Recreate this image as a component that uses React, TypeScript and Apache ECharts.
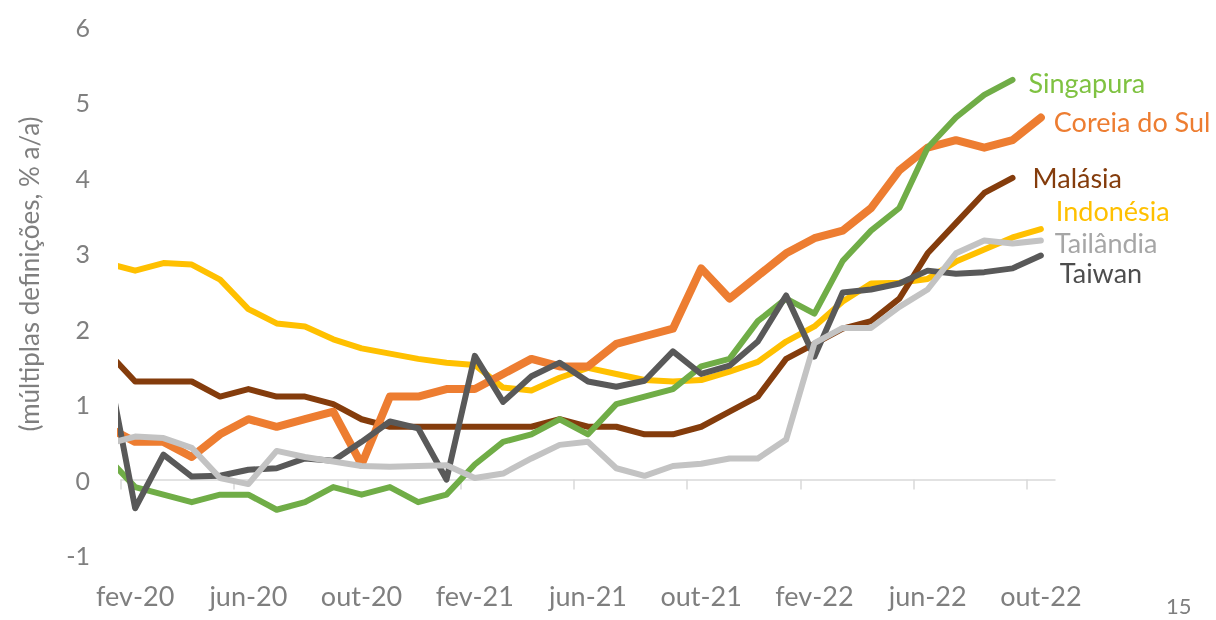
import { useEffect, useRef } from "react";
import * as echarts from "echarts";

// monthly observations, jan-20 .. out-22 (jan-20 lies just left of the axis start and is clipped)
const months = [
  "jan-20", "fev-20", "mar-20", "abr-20", "mai-20", "jun-20", "jul-20", "ago-20", "set-20", "out-20", "nov-20", "dez-20",
  "jan-21", "fev-21", "mar-21", "abr-21", "mai-21", "jun-21", "jul-21", "ago-21", "set-21", "out-21", "nov-21", "dez-21",
  "jan-22", "fev-22", "mar-22", "abr-22", "mai-22", "jun-22", "jul-22", "ago-22", "set-22", "out-22",
];

const singapura = [0.3, -0.1, -0.2, -0.3, -0.2, -0.2, -0.4, -0.3, -0.1, -0.2, -0.1, -0.3, -0.2, 0.2, 0.5, 0.6, 0.8, 0.6, 1.0, 1.1, 1.2, 1.5, 1.6, 2.1, 2.4, 2.2, 2.9, 3.3, 3.6, 4.4, 4.8, 5.1, 5.3, null];
const coreia = [0.7, 0.5, 0.5, 0.3, 0.6, 0.8, 0.7, 0.8, 0.9, 0.2, 1.1, 1.1, 1.2, 1.2, 1.4, 1.6, 1.5, 1.5, 1.8, 1.9, 2.0, 2.8, 2.4, 2.7, 3.0, 3.2, 3.3, 3.6, 4.1, 4.4, 4.5, 4.4, 4.5, 4.8];
const malasia = [1.7, 1.3, 1.3, 1.3, 1.1, 1.2, 1.1, 1.1, 1.0, 0.8, 0.7, 0.7, 0.7, 0.7, 0.7, 0.7, 0.8, 0.7, 0.7, 0.6, 0.6, 0.7, 0.9, 1.1, 1.6, 1.8, 2.0, 2.1, 2.4, 3.0, 3.4, 3.8, 4.0, null];
const indonesia = [2.87, 2.77, 2.87, 2.85, 2.65, 2.26, 2.07, 2.03, 1.86, 1.74, 1.67, 1.6, 1.55, 1.52, 1.22, 1.18, 1.35, 1.48, 1.4, 1.32, 1.3, 1.32, 1.43, 1.56, 1.83, 2.03, 2.36, 2.6, 2.61, 2.66, 2.89, 3.05, 3.21, 3.32];
const tailandia = [0.47, 0.57, 0.55, 0.42, 0.02, -0.06, 0.38, 0.3, 0.24, 0.18, 0.17, 0.18, 0.19, 0.02, 0.08, 0.28, 0.46, 0.5, 0.15, 0.05, 0.18, 0.21, 0.28, 0.28, 0.53, 1.81, 2.01, 2.01, 2.29, 2.52, 3.0, 3.17, 3.13, 3.17];
const taiwan = [1.58, -0.38, 0.33, 0.04, 0.05, 0.13, 0.15, 0.28, 0.25, 0.5, 0.77, 0.68, 0.0, 1.64, 1.03, 1.37, 1.55, 1.3, 1.23, 1.31, 1.7, 1.4, 1.51, 1.83, 2.44, 1.63, 2.48, 2.52, 2.6, 2.77, 2.73, 2.75, 2.8, 2.97];

const yTicks = [-1, 0, 1, 2, 3, 4, 5, 6];
const yTitle = "(múltiplas definições, % a/a)";
const pageNumber = "15";

// axis runs from start of fev-20 (0) to end of out-22 (33); each month plotted at its mid-point
const AXIS_START = 1; // index of fev-20
const AXIS_MONTHS = 33;
const LABEL_STEP = 4;

const toPairs = (vals: (number | null)[]) =>
  vals
    .map((v, i) => (v == null ? null : [i - AXIS_START + 0.5, v]))
    .filter((p) => p !== null) as number[][];

const tickValues: number[] = [];
const labelValues: number[] = [];
for (let i = 0; i < AXIS_MONTHS; i += LABEL_STEP) {
  tickValues.push(i);
  labelValues.push(i + 0.5);
}

const FONT = "Lato";
const GREY = "#7F7F7F";

export default function App() {
  const ref = useRef<HTMLDivElement>(null);
  useEffect(() => {
    const chart = echarts.init(ref.current!, undefined, { renderer: "svg" });

    const mk = (
      name: string,
      vals: (number | null)[],
      color: string,
      textColor: string,
      width: number,
      offset: number[]
    ) => ({
      type: "line",
      name,
      xAxisIndex: 0,
      data: toPairs(vals),
      showSymbol: false,
      symbol: "none",
      clip: true,
      lineStyle: { color, width, cap: "round", join: "round" },
      itemStyle: { color },
      endLabel: {
        show: true,
        formatter: "{a}",
        color: textColor,
        fontSize: 27,
        fontFamily: FONT,
        distance: 0,
        offset,
        align: "left",
        verticalAlign: "middle",
      },
      emphasis: { disabled: true },
    });

    chart.setOption({
      animation: false,
      grid: { left: 121, right: 161, top: 27, bottom: 65, containLabel: false, outerBoundsMode: "none" },
      xAxis: [
        {
          type: "value",
          min: 0,
          max: AXIS_MONTHS,
          axisLine: { show: true, onZero: true, lineStyle: { color: "#D9D9D9", width: 1.5 } },
          axisTick: { show: true, length: 10, customValues: tickValues, lineStyle: { color: "#D9D9D9", width: 1.5 } },
          axisLabel: { show: false },
          splitLine: { show: false },
        },
        {
          type: "value",
          position: "bottom",
          min: 0,
          max: AXIS_MONTHS,
          axisLine: { show: false, onZero: false },
          axisTick: { show: false },
          axisLabel: {
            customValues: labelValues,
            formatter: (v: number) => months[Math.round(v - 0.5) + AXIS_START] ?? "",
            margin: 27,
            color: GREY,
            fontSize: 27,
            fontFamily: FONT,
          },
          splitLine: { show: false },
        },
      ],
      yAxis: {
        type: "value",
        min: yTicks[0],
        max: yTicks[yTicks.length - 1],
        interval: 1,
        axisLine: { show: false },
        axisTick: { show: false },
        splitLine: { show: false },
        axisLabel: { color: GREY, fontSize: 25, fontFamily: FONT, margin: 31 },
      },
      graphic: [
        {
          type: "text",
          x: 29,
          y: 274,
          rotation: Math.PI / 2,
          style: { text: yTitle, fill: GREY, fontSize: 26, fontFamily: FONT, align: "center", verticalAlign: "middle" },
        },
        {
          type: "text",
          x: 1166,
          y: 605,
          style: {
            text: pageNumber,
            fill: GREY,
            fontSize: 22,
            lineHeight: 20,
            fontFamily: FONT,
            align: "left",
            verticalAlign: "middle",
          },
        },
      ],
      series: [
        mk("Indonésia", indonesia, "#FFC000", "#FFC000", 6, [15, -19]),
        mk("Malásia", malasia, "#843C0C", "#843C0C", 6, [20, 0]),
        mk("Coreia do Sul", coreia, "#ED7D31", "#ED7D31", 8, [13, 4]),
        mk("Singapura", singapura, "#70AD47", "#7FC241", 6, [16, 3]),
        mk("Taiwan", taiwan, "#595959", "#4D4D4D", 6, [19, 17]),
        mk("Tailândia", tailandia, "#C3C3C3", "#A6A6A6", 6, [14, 2]),
      ],
    });
    return () => chart.dispose();
  }, []);
  return <div ref={ref} style={{ position: "fixed", left: 0, top: 0, width: 1216, height: 620 }} />;
}
